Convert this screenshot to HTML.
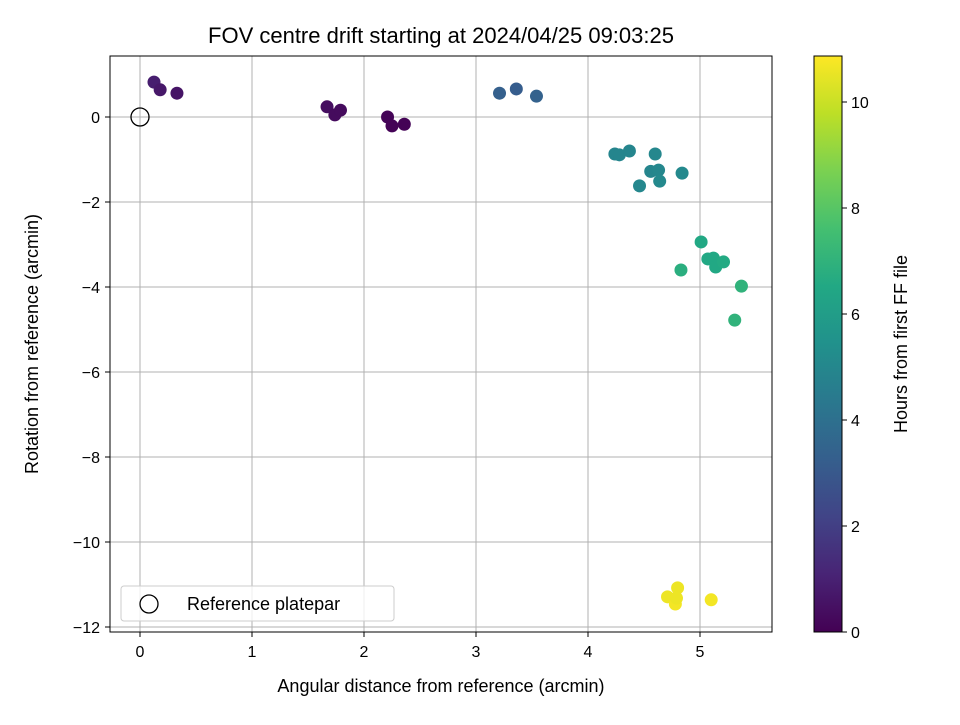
<!DOCTYPE html>
<html><head><meta charset="utf-8"><style>
body{margin:0;background:#fff;}
svg{font-family:"Liberation Sans","DejaVu Sans",sans-serif;}
</style></head><body>
<svg id="chart" width="960" height="720" xmlns="http://www.w3.org/2000/svg">
<defs>
<linearGradient id="vir" x1="0" y1="1" x2="0" y2="0">
<stop offset="0" stop-color="#440154"/><stop offset="0.1" stop-color="#482475"/><stop offset="0.2" stop-color="#414487"/><stop offset="0.3" stop-color="#355f8d"/><stop offset="0.4" stop-color="#2a788e"/><stop offset="0.5" stop-color="#21918c"/><stop offset="0.6" stop-color="#22a884"/><stop offset="0.7" stop-color="#44bf70"/><stop offset="0.8" stop-color="#7ad151"/><stop offset="0.9" stop-color="#bddf26"/><stop offset="1" stop-color="#fde725"/>
</linearGradient>
</defs>
<text x="441" y="43" font-size="22" text-anchor="middle">FOV centre drift starting at 2024/04/25 09:03:25</text>
<g id="grid"></g>
<g id="points"></g>
<rect x="110" y="56" width="662" height="576" fill="none" stroke="#000" stroke-width="1"/>
<g id="ticks"></g>
<text x="441" y="692" font-size="18" text-anchor="middle">Angular distance from reference (arcmin)</text>
<text transform="translate(38,344) rotate(-90)" font-size="18" text-anchor="middle">Rotation from reference (arcmin)</text>
<g>
<rect x="121" y="586" width="273" height="35" rx="3" fill="#fff" fill-opacity="0.8" stroke="#ccc"/>
<circle cx="149" cy="604" r="9" fill="none" stroke="#000" stroke-width="1.3"/>
<text x="187" y="610" font-size="18">Reference platepar</text>
</g>
<rect x="814" y="56" width="28" height="576" fill="url(#vir)" stroke="#000"/>
<g id="cbticks"></g>
<text transform="translate(907,344) rotate(-90)" font-size="18" text-anchor="middle">Hours from first FF file</text>
</svg>
<script>
const xTicks=[0,1,2,3,4,5];
const yTicks=[0,-2,-4,-6,-8,-10,-12];
const cbTicks=[0,2,4,6,8,10];
const xs=[0.125,0.18,0.33,1.67,1.74,1.79,2.21,2.25,2.36,3.21,3.36,3.54,4.24,4.28,4.37,4.46,4.56,4.60,4.63,4.64,4.84,5.01,5.07,5.12,5.14,5.21,5.37,4.83,5.31,4.71,4.80,4.78,4.79,5.10];
const ys=[0.82,0.64,0.56,0.24,0.05,0.16,0.0,-0.21,-0.17,0.56,0.66,0.49,-0.87,-0.89,-0.80,-1.62,-1.28,-0.87,-1.25,-1.51,-1.32,-2.94,-3.34,-3.32,-3.53,-3.41,-3.98,-3.6,-4.78,-11.29,-11.08,-11.46,-11.32,-11.36];
const hours=[0.9,0.7,0.6,0.4,0.3,0.3,0.1,0.05,0.05,3.3,3.2,3.4,4.9,4.9,4.9,5.0,4.9,5.0,5.0,5.1,5.1,6.5,6.5,6.5,6.5,6.6,7.0,6.8,7.0,10.6,10.6,10.7,10.6,10.7];
const X=v=>140+v*112, Y=v=>117-v*42.5, CB=v=>632-v*53;
const vir=["#440154","#482475","#414487","#355f8d","#2a788e","#21918c","#22a884","#44bf70","#7ad151","#bddf26","#fde725"];
function col(h){let t=Math.max(0,Math.min(1,h/10.87))*(vir.length-1);let i=Math.min(Math.floor(t),vir.length-2),f=t-i;
const a=vir[i],b=vir[i+1];const p=(s,k)=>parseInt(s.substr(k,2),16);let o="#";
for(const k of[1,3,5]){o+=Math.round(p(a,k)*(1-f)+p(b,k)*f).toString(16).padStart(2,"0");}return o;}
const NS="http://www.w3.org/2000/svg";
function mk(parent,tag,attrs){const e=document.createElementNS(NS,tag);for(const k in attrs)e.setAttribute(k,attrs[k]);document.getElementById(parent).appendChild(e);return e;}
xTicks.forEach(v=>{
 const g=mk("grid","line",{x1:X(v),x2:X(v),y1:56,y2:632,stroke:"#b0b0b0","stroke-width":1});
 
 
 const t=mk("ticks","line",{x1:X(v),x2:X(v),y1:632,y2:637,stroke:"#000"});
 
 
 const l=mk("ticks","text",{x:X(v),y:657,"font-size":16,"text-anchor":"middle"});l.textContent=v;
 
 
});
yTicks.forEach(v=>{
 const g=mk("grid","line",{x1:110,x2:772,y1:Y(v),y2:Y(v),stroke:"#b0b0b0","stroke-width":1});
 
 
 const t=mk("ticks","line",{x1:105,x2:110,y1:Y(v),y2:Y(v),stroke:"#000"});
 
 
 const l=mk("ticks","text",{x:100,y:Y(v)+6,"font-size":16,"text-anchor":"end"});l.textContent=v<0?"\u2212"+(-v):v;
 
 
});
cbTicks.forEach(v=>{
 const t=mk("cbticks","line",{x1:842,x2:847,y1:CB(v),y2:CB(v),stroke:"#000"});
 
 
 const l=mk("cbticks","text",{x:851,y:CB(v)+6,"font-size":16});l.textContent=v;
 
 
});
xs.forEach((x,i)=>{
 const c=mk("points","circle",{cx:X(x),cy:Y(ys[i]),r:6.5,fill:col(hours[i])});
 
 
});
const r=mk("points","circle",{cx:X(0),cy:Y(0),r:9,fill:"none",stroke:"#000","stroke-width":1.3});


</script>
</body></html>
